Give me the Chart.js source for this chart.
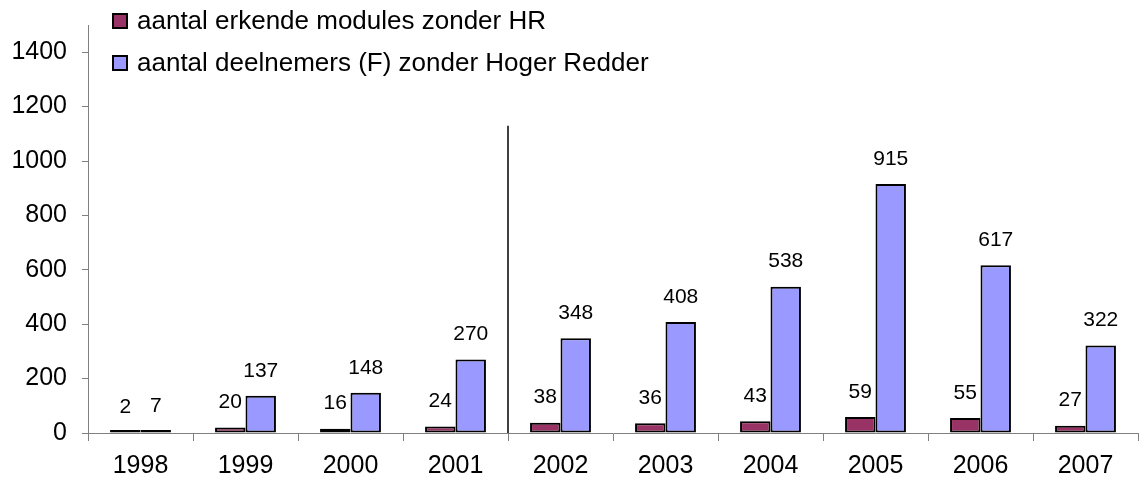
<!DOCTYPE html>
<html>
<head>
<meta charset="utf-8">
<script src="https://cdn.jsdelivr.net/npm/chart.js@4"></script>
<style>
  body { margin: 0; background: #fff; }
  #wrap { width: 1140px; height: 481px; position: relative; }
</style>
</head>
<body>
<div id="wrap"><canvas id="chart"></canvas></div>
<script>
// Données
const years = ["1998", "1999", "2000", "2001", "2002", "2003", "2004", "2005", "2006", "2007"];
const modules = [2, 20, 16, 24, 38, 36, 43, 59, 55, 27];
const deelnemers = [7, 137, 148, 270, 348, 408, 538, 915, 617, 322];
const yTicks = [0, 200, 400, 600, 800, 1000, 1200, 1400];

const FONT = '"Liberation Sans", Arial, sans-serif';

// Valeurs au-dessus des barres
const valueLabels = {
  id: "valueLabels",
  afterDatasetsDraw(chart) {
    const ctx = chart.ctx;
    const ys = chart.scales.y;
    ctx.save();
    ctx.font = "21px " + FONT;
    ctx.fillStyle = "#000";
    ctx.textAlign = "center";
    ctx.textBaseline = "middle";
    chart.data.datasets.forEach((ds, i) => {
      chart.getDatasetMeta(i).data.forEach((bar, j) => {
        ctx.fillText(ds.data[j], bar.x, ys.getPixelForValue(ds.data[j]) - 25);
      });
    });
    ctx.restore();
  },
};

// Ligne verticale entre 2001 et 2002
const divider = {
  id: "divider",
  afterDatasetsDraw(chart) {
    const xs = chart.scales.x, ys = chart.scales.y;
    const x = (xs.getPixelForValue(3) + xs.getPixelForValue(4)) / 2;
    const ctx = chart.ctx;
    ctx.save();
    ctx.strokeStyle = "#000";
    ctx.lineWidth = 1.5;
    ctx.beginPath();
    ctx.moveTo(x, ys.getPixelForValue(1130));
    ctx.lineTo(x, ys.getPixelForValue(0));
    ctx.stroke();
    ctx.restore();
  },
};

// Légende dessinée à la main (deux lignes en haut à gauche)
const sideLegend = {
  id: "sideLegend",
  afterDraw(chart) {
    const ctx = chart.ctx;
    ctx.save();
    ctx.font = "26px " + FONT;
    ctx.textBaseline = "middle";
    chart.data.datasets.forEach((ds, i) => {
      const y = 21 + i * 42;
      ctx.fillStyle = ds.backgroundColor;
      ctx.fillRect(113, y - 7, 14, 14);
      ctx.strokeStyle = "#000";
      ctx.lineWidth = 2;
      ctx.strokeRect(113, y - 7, 14, 14);
      ctx.fillStyle = "#000";
      ctx.fillText(ds.label, 137, y + 1);
    });
    ctx.restore();
  },
};

new Chart(document.getElementById("chart"), {
  type: "bar",
  data: {
    labels: years,
    datasets: [
      {
        label: "aantal erkende modules zonder HR",
        data: modules,
        backgroundColor: "#993366",
        borderColor: "#000",
        borderWidth: 2,
        borderSkipped: false,
        minBarLength: 3,
      },
      {
        label: "aantal deelnemers (F) zonder Hoger Redder",
        data: deelnemers,
        backgroundColor: "#9999FF",
        borderColor: "#000",
        borderWidth: 2,
        borderSkipped: false,
        minBarLength: 3,
      },
    ],
  },
  options: {
    responsive: true,
    maintainAspectRatio: false,
    animation: false,
    layout: { padding: { top: 25, right: 2, bottom: 0, left: 0 } },
    datasets: { bar: { categoryPercentage: 0.58, barPercentage: 1.0 } },
    plugins: { legend: { display: false }, tooltip: { enabled: false } },
    scales: {
      x: {
        afterFit: (s) => { s.height = 48; },
        grid: { offset: true, drawOnChartArea: false, tickLength: 8, color: "#808080" },
        border: { color: "#808080", width: 1 },
        ticks: { color: "#000", font: { family: FONT, size: 25, lineHeight: 1 }, padding: 13 },
      },
      y: {
        min: 0,
        max: 1500,
        afterFit: (s) => { s.width = 88; s.paddingTop = 0; s.paddingBottom = 0; },
        afterBuildTicks: (s) => { s.ticks = yTicks.map((v) => ({ value: v })); },
        grid: { drawOnChartArea: false, tickLength: 6, color: "#808080" },
        border: { color: "#808080", width: 1 },
        ticks: {
          color: "#000",
          font: { family: FONT, size: 25 },
          padding: 15,
          callback: (v) => String(v),
        },
      },
    },
  },
  plugins: [valueLabels, divider, sideLegend],
});
</script>
</body>
</html>
